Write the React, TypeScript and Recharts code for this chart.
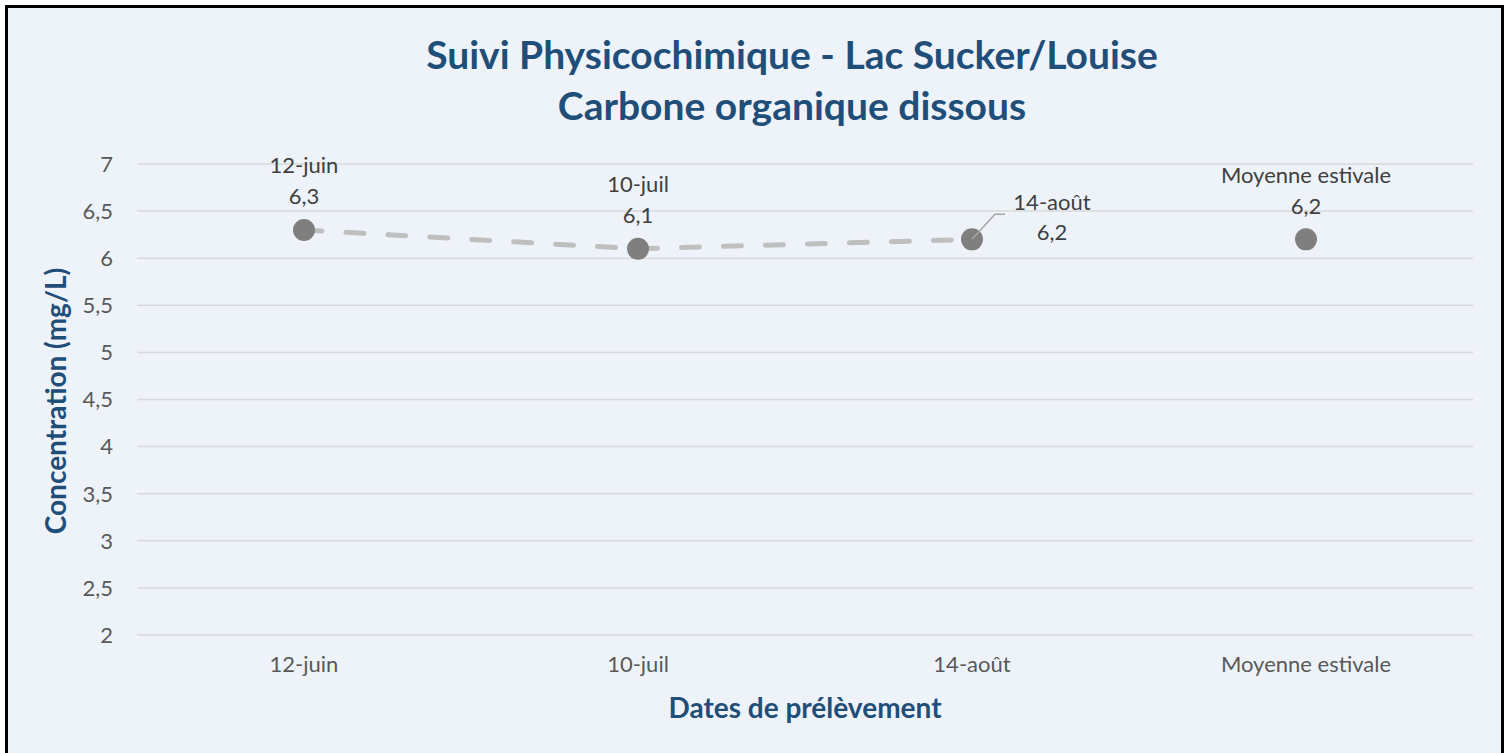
import { LineChart, Line, XAxis, YAxis, CartesianGrid } from 'recharts'

const categories = ['12-juin', '10-juil', '14-août', 'Moyenne estivale']
const campagne = [6.3, 6.1, 6.2, null]
const moyenne = [null, null, null, 6.2]
const yTicks = [2, 2.5, 3, 3.5, 4, 4.5, 5, 5.5, 6, 6.5, 7]

const data = categories.map((c, i) => ({ date: c, campagne: campagne[i], moyenne: moyenne[i] }))

const FONT = 'Lato, "Open Sans", sans-serif'
const BLUE = '#1f4e79'

const fmt = (v: number) => String(v).replace('.', ',')

function PointLabel(props: any) {
  const { x, y, value, index } = props
  if (value == null || x == null || y == null) return null
  const name = categories[index]
  // le libellé du 14-août est déporté à droite avec une ligne de rappel
  if (index === 2) {
    return (
      <g>
        <polyline points={`${x},${y} ${x + 23},${y - 25} ${x + 33},${y - 25}`} fill="none" stroke="#a6a6a6" strokeWidth={1.5} />
        <text x={x + 80} y={y - 38} textAnchor="middle" dominantBaseline="central" fill="#404040" fontSize={22} fontFamily={FONT}>{name}</text>
        <text x={x + 80} y={y - 8} textAnchor="middle" dominantBaseline="central" fill="#404040" fontSize={22} fontFamily={FONT}>{fmt(value)}</text>
      </g>
    )
  }
  return (
    <g>
      <text x={x} y={y - 65} textAnchor="middle" dominantBaseline="central" fill="#404040" fontSize={22} fontFamily={FONT}>{name}</text>
      <text x={x} y={y - 34} textAnchor="middle" dominantBaseline="central" fill="#404040" fontSize={22} fontFamily={FONT}>{fmt(value)}</text>
    </g>
  )
}

export default function App() {
  return (
    <div style={{ position: 'fixed', left: 0, top: 0, width: 1510, height: 753, overflow: 'hidden', background: '#fff', fontFamily: FONT }}>
      <div style={{ position: 'absolute', left: 5, top: 5, width: 1493, height: 800, border: '3px solid #000', background: '#eef3fa' }} />
      <div style={{ position: 'absolute', left: 0, top: 0 }}>
        <LineChart width={1510} height={753} data={data} margin={{ top: 164, right: 37, bottom: 0, left: 0 }}>
          <CartesianGrid vertical={false} stroke="#d9d9d9" strokeWidth={1.5} />
          <XAxis
            dataKey="date"
            padding={{ left: 167, right: 167 }}
            axisLine={false}
            tickLine={false}
            tickSize={0}
            tickMargin={21}
            height={118}
            tick={{ fill: '#595959', fontSize: 22, fontFamily: FONT }}
            interval={0}
          />
          <YAxis
            domain={[2, 7]}
            ticks={yTicks}
            tickFormatter={fmt}
            axisLine={false}
            tickLine={false}
            tickSize={0}
            tickMargin={24}
            width={137}
            tick={{ fill: '#595959', fontSize: 22, fontFamily: FONT }}
          />
          <Line
            dataKey="campagne"
            stroke="#bfbfbf"
            strokeWidth={5}
            strokeDasharray="18 24"
            strokeLinecap="round"
            dot={{ r: 11, fill: '#7f7f7f', stroke: 'none' }}
            activeDot={false}
            label={<PointLabel />}
            isAnimationActive={false}
          />
          <Line
            dataKey="moyenne"
            stroke="none"
            dot={{ r: 11, fill: '#7f7f7f', stroke: 'none' }}
            activeDot={false}
            label={<PointLabel />}
            isAnimationActive={false}
          />
        </LineChart>
      </div>
      <div style={{ position: 'absolute', left: 0, width: 1584, top: 29, textAlign: 'center', color: BLUE, fontWeight: 700, fontSize: 39, lineHeight: '51px' }}>
        Suivi Physicochimique - Lac Sucker/Louise<br />Carbone organique dissous
      </div>
      <div style={{ position: 'absolute', left: 0, width: 1610, top: 690, textAlign: 'center', color: BLUE, fontWeight: 700, fontSize: 28, lineHeight: '34px' }}>
        Dates de prélèvement
      </div>
      <div style={{ position: 'absolute', left: 55 - 200, top: 401 - 17, width: 400, height: 34, lineHeight: '34px', textAlign: 'center', color: BLUE, fontWeight: 700, fontSize: 28, transform: 'rotate(-90deg)' }}>
        Concentration (mg/L)
      </div>
    </div>
  )
}
